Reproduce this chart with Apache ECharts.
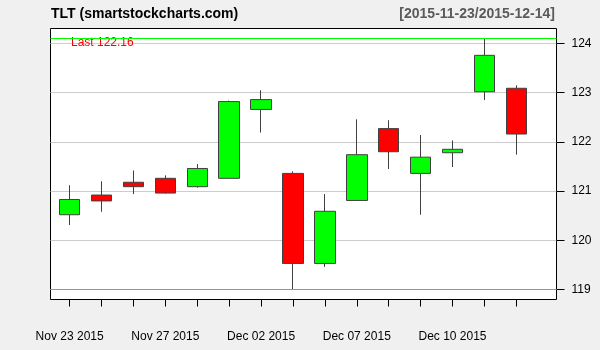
<!DOCTYPE html>
<html>
<head>
<meta charset="utf-8">
<script src="https://cdn.jsdelivr.net/npm/echarts@6/dist/echarts.min.js"></script>
<style>
html,body{margin:0;padding:0;background:#F0F0F0;}
#chart{width:600px;height:350px;}
</style>
</head>
<body>
<div id="chart"></div>
<script>
var symbol = 'TLT';
var site = 'smartstockcharts.com';
var dates = ['2015-11-23','2015-11-24','2015-11-25','2015-11-27','2015-11-30','2015-12-01','2015-12-02','2015-12-03','2015-12-04','2015-12-07','2015-12-08','2015-12-09','2015-12-10','2015-12-11','2015-12-14'];
var openVals  = [120.52,120.92,121.18,121.26,121.09,121.26,122.66,121.36,119.53,120.81,122.27,121.36,121.78,123.02,123.09];
var closeVals = [120.83,120.80,121.09,120.96,121.46,122.82,122.86,119.53,120.59,121.74,121.80,121.69,121.85,123.76,122.16];
var lowVals   = [120.31,120.58,120.94,120.95,121.07,121.26,122.19,119.00,119.46,120.81,121.45,120.52,121.49,122.85,121.74];
var highVals  = [121.12,121.20,121.42,121.32,121.55,122.84,123.05,121.40,120.94,122.46,122.44,122.14,122.03,124.11,123.15];
var xLabelIndex = [0,3,6,9,12];
var xLabelText = ['Nov 23 2015','Nov 27 2015','Dec 02 2015','Dec 07 2015','Dec 10 2015'];
var yTicks = [119,120,121,122,123,124];

var FONT = "'Liberation Sans', Arial, sans-serif";
var candleData = dates.map(function(d,i){ return [i+1, openVals[i], closeVals[i], lowVals[i], highVals[i]]; });
var maxHigh = Math.max.apply(null, highVals);
var minLow = Math.min.apply(null, lowVals);
var lastClose = closeVals[closeVals.length-1];
var GREEN = '#00FF00';

var chart = echarts.init(document.getElementById('chart'), null, {renderer:'canvas'});
chart.setOption({
  animation: false,
  backgroundColor: '#F0F0F0',
  title: [
    {text: symbol + ' (' + site + ')', left: 51, top: 7, padding: 0,
     textStyle: {fontFamily: FONT, fontSize: 14, fontWeight: 'bold', color: '#000'}},
    {text: '[' + dates[0] + '/' + dates[dates.length-1] + ']', right: 45, top: 7, padding: 0,
     textStyle: {fontFamily: FONT, fontSize: 14, fontWeight: 'bold', color: '#5A5A5A'}},
    {text: 'Last ' + lastClose.toFixed(2), left: 71, top: 37, padding: 0,
     textStyle: {fontFamily: FONT, fontSize: 12, fontWeight: 'normal', color: '#FF0000'}}
  ],
  grid: {left: 50.5, right: 43.5, top: 28.5, bottom: 50.5, show: true, backgroundColor: '#fff', borderColor: '#000', borderWidth: 1, containLabel: false},
  xAxis: {
    type: 'value', min: 0.4, max: 16.26,
    axisLine: {show: false},
    splitLine: {show: false},
    axisTick: {show: true, length: 7, lineStyle: {color: '#000'}, customValues: dates.map(function(d,i){return i+1;})},
    axisLabel: {show: true, margin: 31, fontFamily: FONT, fontSize: 12, color: '#000',
      customValues: xLabelIndex.map(function(i){return i+1;}),
      formatter: function(v){ var k = xLabelIndex.indexOf(Math.round(v)-1); return k >= 0 ? xLabelText[k] : ''; }}
  },
  yAxis: {
    type: 'value', position: 'right', min: 118.797, max: 124.305, scale: true,
    axisLine: {show: false},
    axisTick: {show: true, length: 8, lineStyle: {color: '#000'}, customValues: yTicks},
    axisLabel: {show: true, margin: 15, fontFamily: FONT, fontSize: 12, color: '#000', customValues: yTicks,
      padding: [4,0,0,0],
      formatter: function(v){ return String(Math.round(v)); }},
    splitLine: {show: true, lineStyle: {color: '#CCCCCC', width: 1}}
  },
  series: [{
    type: 'candlestick',
    data: candleData,
    encode: {x: 0, y: [1,2,3,4]},
    barWidth: 21,
    itemStyle: {color: '#00FF00', color0: '#FF0000', borderColor: '#404040', borderColor0: '#404040', borderWidth: 1},
    markLine: {
      silent: true, symbol: ['none','none'], label: {show: false}, animation: false, z: 10,
      lineStyle: {color: GREEN, type: 'solid', width: 1, opacity: 1},
      emphasis: {disabled: true},
      data: [
        {yAxis: maxHigh, lineStyle: {color: GREEN, type: 'solid', width: 1}},
        {yAxis: minLow, lineStyle: {color: GREEN, type: 'solid', width: 1}}
      ]
    }
  }]
});
</script>
</body>
</html>
